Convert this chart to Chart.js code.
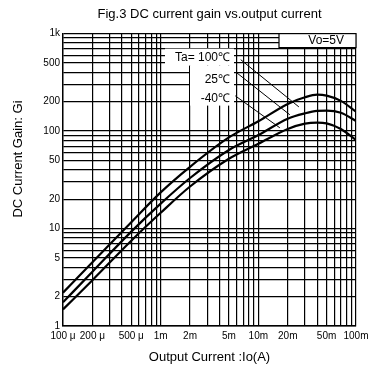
<!DOCTYPE html>
<html lang="en">
<head>
<meta charset="UTF-8">
<title>Fig.3 DC current gain vs.output current</title>
<style>
    * { margin: 0; padding: 0; box-sizing: border-box; }
    body { background: #fff; }
    .chart-box { position: relative; width: 380px; height: 367px; }
</style>
<script src="https://cdn.jsdelivr.net/npm/chart.js"></script>
</head>
<body>
<div class="chart-box">
    <canvas id="gainChart"></canvas>
</div>
<script>
// output current (A)
const currentA = [1e-4, 2e-4, 5e-4, 1e-3, 2e-3, 5e-3, 1e-2, 2e-2, 3e-2, 4e-2, 5e-2, 7e-2, 1e-1];
// DC current gain for each ambient temperature
const gain100 = [2.2, 4.5, 11.6, 23.5, 43, 86, 126, 190, 222, 236, 231, 204, 158];
const gain25  = [1.75, 3.6, 9.3, 18, 33, 64, 91, 134, 152, 161, 162, 154, 127];
const gainM40 = [1.48, 2.95, 7.5, 14.5, 27, 52, 74, 105, 119, 122, 120, 105, 81];

// leader lines from the temperature labels to the curves [current, gain]
const leader100 = [[6.6e-3, 540], [2.6e-2, 177]];
const leader25  = [[6.0e-3, 397], [2.1e-2, 147]];
const leaderM40 = [[5.8e-3, 230], [1.66e-2, 108]];

// tick labels
const xTickValues = [1e-4, 2e-4, 5e-4, 1e-3, 2e-3, 5e-3, 1e-2, 2e-2, 5e-2, 1e-1];
const xTickLabels = ['100 μ', '200 μ', '500 μ', '1m', '2m', '5m', '10m', '20m', '50m', '100m'];
const yTickValues = [1, 2, 5, 10, 20, 50, 100, 200, 500, 1000];
const yTickLabels = ['1', '2', '5', '10', '20', '50', '100', '200', '500', '1k'];

Chart.defaults.font.family = "'Liberation Sans', Arial, sans-serif";
Chart.defaults.color = '#000';

// 1..9 grid lines in each decade
function logGrid(min, max) {
    const out = [];
    for (let e = Math.round(Math.log10(min)); e < Math.round(Math.log10(max)); e++) {
        for (let k = 1; k <= 9; k++) out.push(Number((k * Math.pow(10, e)).toPrecision(6)));
    }
    out.push(max);
    return out;
}

function labelFor(v, values, labels) {
    const i = values.findIndex(t => Math.abs(v / t - 1) < 1e-6);
    return i >= 0 ? labels[i] : '';
}

function toPoints(ys) {
    return currentA.map((x, i) => ({ x: x, y: ys[i] }));
}

function curve(ys) {
    return {
        data: toPoints(ys),
        borderColor: '#000',
        borderWidth: 2.2,
        pointRadius: 0,
        fill: false,
        cubicInterpolationMode: 'monotone'
    };
}

function leader(pts) {
    return {
        data: pts.map(p => ({ x: p[0], y: p[1] })),
        borderColor: '#000',
        borderWidth: 1,
        pointRadius: 0,
        fill: false,
        tension: 0
    };
}

// boxes and labels inside the plot
const notes = {
    id: 'notes',
    beforeDatasetsDraw(chart) {
        const { ctx, chartArea: a } = chart;
        ctx.save();
        ctx.fillStyle = '#fff';
        ctx.strokeStyle = '#000';
        ctx.lineWidth = 1.2;
        // Vo=5V box
        ctx.fillRect(a.right - 77, a.top, 77, 14);
        ctx.strokeRect(a.right - 77, a.top, 77, 14);
        // temperature label area
        ctx.fillRect(a.left + 102, a.top + 15, 69, 17);
        ctx.fillRect(a.left + 127, a.top + 32, 44, 40);

        ctx.fillStyle = '#000';
        ctx.textBaseline = 'middle';
        ctx.textAlign = 'right';
        ctx.font = "12px 'Liberation Sans', Arial, sans-serif";
        ctx.fillText('Vo=5V', a.right - 12, a.top + 7.5);
        ctx.fillText('Ta= 100℃', a.left + 167, a.top + 24);
        ctx.fillText('25℃', a.left + 167, a.top + 46);
        ctx.fillText('-40℃', a.left + 167, a.top + 65);
        ctx.restore();
    },
    afterDraw(chart) {
        const { ctx } = chart;
        ctx.save();
        ctx.fillStyle = '#000';
        ctx.font = "13px 'Liberation Sans', Arial, sans-serif";
        ctx.textAlign = 'center';
        ctx.textBaseline = 'middle';
        ctx.translate(18, 159);
        ctx.rotate(-Math.PI / 2);
        ctx.fillText('DC Current Gain: Gi', 0, 0);
        ctx.restore();
    }
};

new Chart(document.getElementById('gainChart'), {
    type: 'line',
    data: {
        datasets: [
            curve(gain100),
            curve(gain25),
            curve(gainM40),
            leader(leader100),
            leader(leader25),
            leader(leaderM40)
        ]
    },
    options: {
        responsive: true,
        maintainAspectRatio: false,
        animation: false,
        layout: { padding: { left: 0, right: 24, top: 0, bottom: 0 } },
        plugins: {
            legend: { display: false },
            tooltip: { enabled: false },
            title: {
                display: true,
                fullSize: false,
                text: 'Fig.3 DC current gain vs.output current',
                color: '#000',
                font: { size: 13, weight: 'normal' },
                padding: { top: 7, bottom: 11 }
            }
        },
        scales: {
            x: {
                type: 'logarithmic',
                min: 1e-4,
                max: 1e-1,
                afterBuildTicks: s => { s.ticks = logGrid(1e-4, 1e-1).map(v => ({ value: v })); },
                afterFit: s => { s.height = 41; },
                ticks: {
                    autoSkip: false,
                    maxRotation: 0,
                    padding: 4,
                    color: '#000',
                    font: { size: 10 },
                    callback: v => labelFor(v, xTickValues, xTickLabels)
                },
                grid: { color: '#000', lineWidth: 1.2, drawTicks: false },
                border: { color: '#000', width: 1.4 },
                title: {
                    display: true,
                    text: 'Output Current :Io(A)',
                    color: '#000',
                    font: { size: 13 },
                    padding: { top: 0, bottom: 2 }
                }
            },
            y: {
                type: 'logarithmic',
                min: 1,
                max: 1000,
                afterBuildTicks: s => { s.ticks = logGrid(1, 1000).map(v => ({ value: v })); },
                afterFit: s => { s.width = 63; },
                ticks: {
                    autoSkip: false,
                    padding: 3,
                    color: '#000',
                    font: { size: 10 },
                    callback: v => labelFor(v, yTickValues, yTickLabels)
                },
                grid: { color: '#000', lineWidth: 1.2, drawTicks: false },
                border: { color: '#000', width: 1.4 }
            }
        }
    },
    plugins: [notes]
});
</script>
</body>
</html>
